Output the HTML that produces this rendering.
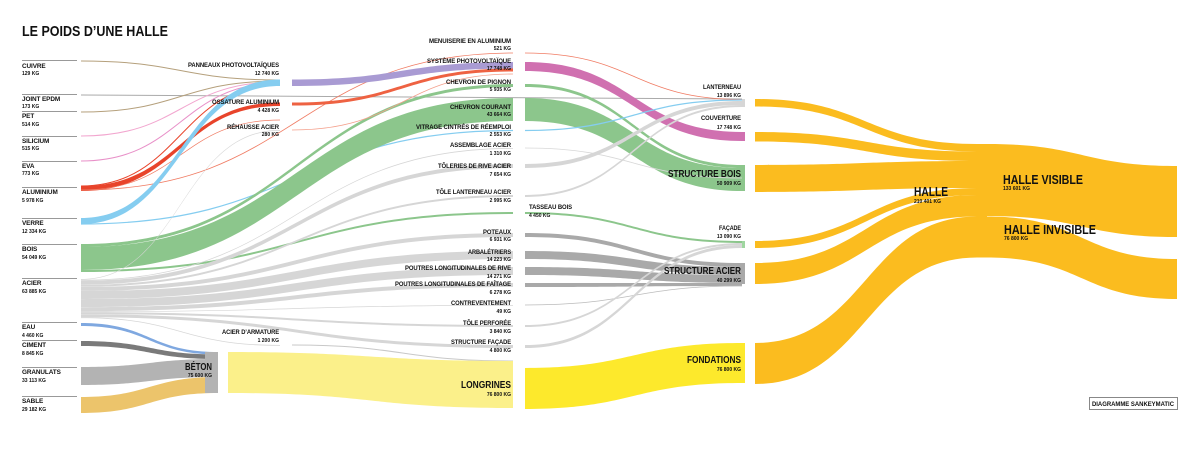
<!DOCTYPE html>
<html><head><meta charset="utf-8">
<style>
html,body{margin:0;padding:0;background:#fff;}
svg{display:block}
text{font-family:"Liberation Sans",sans-serif;font-weight:bold;fill:#111}
.n{font-size:6.4px;letter-spacing:-0.1px}
.k{font-size:5px;font-weight:bold}
.r{text-anchor:end}
</style></head>
<body>
<svg id="s" width="1200" height="453" viewBox="0 0 1200 453" xmlns="http://www.w3.org/2000/svg">
<g id="flows"></g>
<g id="labels">
<text x="22" y="36" style="font-size:15px" textLength="146" lengthAdjust="spacingAndGlyphs">LE POIDS D’UNE HALLE</text>
<g stroke="#999" stroke-width="1">
<line x1="22" y1="60.5" x2="77" y2="60.5"/><line x1="22" y1="94.5" x2="77" y2="94.5"/>
<line x1="22" y1="111.5" x2="77" y2="111.5"/><line x1="22" y1="136.5" x2="77" y2="136.5"/>
<line x1="22" y1="161.5" x2="77" y2="161.5"/><line x1="22" y1="187.5" x2="77" y2="187.5"/>
<line x1="22" y1="218.5" x2="77" y2="218.5"/><line x1="22" y1="244.5" x2="77" y2="244.5"/>
<line x1="22" y1="278.5" x2="77" y2="278.5"/><line x1="22" y1="322.5" x2="77" y2="322.5"/>
<line x1="22" y1="340.5" x2="77" y2="340.5"/><line x1="22" y1="367.5" x2="77" y2="367.5"/>
<line x1="22" y1="396.5" x2="77" y2="396.5"/>
</g>
<text class="n" x="22" y="68">CUIVRE</text><text class="k" x="22" y="75">129 KG</text>
<text class="n" x="22" y="101">JOINT EPDM</text><text class="k" x="22" y="108">173 KG</text>
<text class="n" x="22" y="118">PET</text><text class="k" x="22" y="126">514 KG</text>
<text class="n" x="22" y="143">SILICIUM</text><text class="k" x="22" y="150">515 KG</text>
<text class="n" x="22" y="168">EVA</text><text class="k" x="22" y="175">773 KG</text>
<text class="n" x="22" y="194">ALUMINIUM</text><text class="k" x="22" y="202">5 978 KG</text>
<text class="n" x="22" y="225">VERRE</text><text class="k" x="22" y="233">12 334 KG</text>
<text class="n" x="22" y="251">BOIS</text><text class="k" x="22" y="259">54 049 KG</text>
<text class="n" x="22" y="285">ACIER</text><text class="k" x="22" y="293">63 885 KG</text>
<text class="n" x="22" y="329">EAU</text><text class="k" x="22" y="337">4 460 KG</text>
<text class="n" x="22" y="347">CIMENT</text><text class="k" x="22" y="355">8 845 KG</text>
<text class="n" x="22" y="374">GRANULATS</text><text class="k" x="22" y="382">33 113 KG</text>
<text class="n" x="22" y="403">SABLE</text><text class="k" x="22" y="411">29 182 KG</text>

<text class="n r" x="279" y="67" textLength="91" lengthAdjust="spacingAndGlyphs">PANNEAUX PHOTOVOLTAÏQUES</text><text class="k r" x="279" y="75">12 740 KG</text>
<text class="n r" x="279" y="104" textLength="67" lengthAdjust="spacingAndGlyphs">OSSATURE ALUMINIUM</text><text class="k r" x="279" y="112">4 428 KG</text>
<text class="n r" x="279" y="129" textLength="52" lengthAdjust="spacingAndGlyphs">RÉHAUSSE ACIER</text><text class="k r" x="279" y="136">280 KG</text>
<text class="n r" x="279" y="334" textLength="57" lengthAdjust="spacingAndGlyphs">ACIER D’ARMATURE</text><text class="k r" x="279" y="342">1 200 KG</text>
<text class="r" x="212" y="370" style="font-size:10.5px" textLength="27" lengthAdjust="spacingAndGlyphs">BÉTON</text><text class="k r" x="212" y="377">75 600 KG</text>

<text class="n r" x="511" y="43" textLength="82" lengthAdjust="spacingAndGlyphs">MENUISERIE EN ALUMINIUM</text><text class="k r" x="511" y="50">521 KG</text>
<text class="n r" x="511" y="63" textLength="84" lengthAdjust="spacingAndGlyphs">SYSTÈME PHOTOVOLTAÏQUE</text><text class="k r" x="511" y="70">17 748 KG</text>
<text class="n r" x="511" y="84" textLength="65" lengthAdjust="spacingAndGlyphs">CHEVRON DE PIGNON</text><text class="k r" x="511" y="91">5 935 KG</text>
<text class="n r" x="511" y="109" textLength="61" lengthAdjust="spacingAndGlyphs">CHEVRON COURANT</text><text class="k r" x="511" y="116">43 664 KG</text>
<text class="n r" x="511" y="129" textLength="95" lengthAdjust="spacingAndGlyphs">VITRAGE CINTRÉS DE RÉEMPLOI</text><text class="k r" x="511" y="136">2 553 KG</text>
<text class="n r" x="511" y="147" textLength="61" lengthAdjust="spacingAndGlyphs">ASSEMBLAGE ACIER</text><text class="k r" x="511" y="155">1 310 KG</text>
<text class="n r" x="511" y="168" textLength="73" lengthAdjust="spacingAndGlyphs">TÔLERIES DE RIVE ACIER</text><text class="k r" x="511" y="176">7 654 KG</text>
<text class="n r" x="511" y="194" textLength="75" lengthAdjust="spacingAndGlyphs">TÔLE LANTERNEAU ACIER</text><text class="k r" x="511" y="202">2 995 KG</text>
<text class="n" x="529" y="209" textLength="43" lengthAdjust="spacingAndGlyphs">TASSEAU BOIS</text><text class="k" x="529" y="217">4 450 KG</text>
<text class="n r" x="511" y="234" textLength="28" lengthAdjust="spacingAndGlyphs">POTEAUX</text><text class="k r" x="511" y="241">6 931 KG</text>
<text class="n r" x="511" y="254" textLength="43" lengthAdjust="spacingAndGlyphs">ARBALÉTRIERS</text><text class="k r" x="511" y="261">14 223 KG</text>
<text class="n r" x="511" y="270" textLength="106" lengthAdjust="spacingAndGlyphs">POUTRES LONGITUDINALES DE RIVE</text><text class="k r" x="511" y="278">14 271 KG</text>
<text class="n r" x="511" y="286" textLength="116" lengthAdjust="spacingAndGlyphs">POUTRES LONGITUDINALES DE FAÎTAGE</text><text class="k r" x="511" y="294">6 278 KG</text>
<text class="n r" x="511" y="305" textLength="60" lengthAdjust="spacingAndGlyphs">CONTREVENTEMENT</text><text class="k r" x="511" y="313">49 KG</text>
<text class="n r" x="511" y="325" textLength="48" lengthAdjust="spacingAndGlyphs">TÔLE PERFORÉE</text><text class="k r" x="511" y="333">3 840 KG</text>
<text class="n r" x="511" y="344" textLength="60" lengthAdjust="spacingAndGlyphs">STRUCTURE FAÇADE</text><text class="k r" x="511" y="352">4 800 KG</text>
<text class="r" x="511" y="388" style="font-size:10.5px" textLength="50" lengthAdjust="spacingAndGlyphs">LONGRINES</text><text class="k r" x="511" y="396">76 800 KG</text>

<text class="n r" x="741" y="89" textLength="38" lengthAdjust="spacingAndGlyphs">LANTERNEAU</text><text class="k r" x="741" y="97">13 896 KG</text>
<text class="n r" x="741" y="120" textLength="40" lengthAdjust="spacingAndGlyphs">COUVERTURE</text><text class="k r" x="741" y="129">17 748 KG</text>
<text class="r" x="741" y="177" style="font-size:10.5px" textLength="73" lengthAdjust="spacingAndGlyphs">STRUCTURE BOIS</text><text class="k r" x="741" y="185">50 909 KG</text>
<text class="n r" x="741" y="230" textLength="22" lengthAdjust="spacingAndGlyphs">FAÇADE</text><text class="k r" x="741" y="238">13 090 KG</text>
<text class="r" x="741" y="274" style="font-size:10.5px" textLength="77" lengthAdjust="spacingAndGlyphs">STRUCTURE ACIER</text><text class="k r" x="741" y="282">40 299 KG</text>
<text class="r" x="741" y="363" style="font-size:10.5px" textLength="54" lengthAdjust="spacingAndGlyphs">FONDATIONS</text><text class="k r" x="741" y="371">76 800 KG</text>

<text x="914" y="196" style="font-size:12.5px" textLength="34" lengthAdjust="spacingAndGlyphs">HALLE</text><text class="k" x="914" y="203">210 401 KG</text>
<text x="1003" y="184" style="font-size:12.5px" textLength="80" lengthAdjust="spacingAndGlyphs">HALLE VISIBLE</text><text class="k" x="1003" y="190">133 601 KG</text>
<text x="1004" y="234" style="font-size:12.5px" textLength="92" lengthAdjust="spacingAndGlyphs">HALLE INVISIBLE</text><text class="k" x="1004" y="240">76 800 KG</text>
<rect x="1089.5" y="397.5" width="88" height="12" fill="#fff" stroke="#888"/>
<text x="1133" y="406" style="font-size:6px;text-anchor:middle" textLength="82" lengthAdjust="spacingAndGlyphs">DIAGRAMME SANKEYMATIC</text>
</g>
</svg>
<script>
var g=document.getElementById('flows'),NS='http://www.w3.org/2000/svg';
function band(x0,a,b,x1,c,d,col,op){var m=(x0+x1)/2,p=document.createElementNS(NS,'path');
p.setAttribute('d','M'+x0+' '+a+'C'+m+' '+a+' '+m+' '+c+' '+x1+' '+c+'L'+x1+' '+d+'C'+m+' '+d+' '+m+' '+b+' '+x0+' '+b+'Z');
p.setAttribute('fill',col);if(op)p.setAttribute('fill-opacity',op);g.appendChild(p);}
function ln(x0,a,x1,c,col,w){var m=(x0+x1)/2,p=document.createElementNS(NS,'path');
p.setAttribute('d','M'+x0+' '+a+'C'+m+' '+a+' '+m+' '+c+' '+x1+' '+c);
p.setAttribute('fill','none');p.setAttribute('stroke',col);p.setAttribute('stroke-width',w||1);g.appendChild(p);}
function rect(x,y,w,h,c){var r=document.createElementNS(NS,'rect');r.setAttribute('x',x);r.setAttribute('y',y);r.setAttribute('width',w);r.setAttribute('height',h);r.setAttribute('fill',c);g.appendChild(r);}
var G='#d6d6d6',G2='#a9a9a9',GR='#8cc68c',Y='#fbbc1f';
ln(81,95,742,99,'#aaa',1);
ln(81,61,280,80,'#b5a07c',1);
ln(81,112,280,81,'#b5a07c',1);
ln(81,136,280,82,'#f2a6cf',1);
ln(81,161,280,83,'#e890c8',1);
ln(81,186,280,84,'#e8442b',1);
band(81,186,191,280,102.5,106,'#e8442b');
ln(81,190,513,53,'#f07c64',0.8);
ln(81,190,280,120,'#f07c64',0.7);
band(81,218,224,280,79.5,86,'#85cdf0');
ln(81,224,513,130.5,'#85cdf0',1.2);
band(81,244,247,513,84,87,GR);
band(81,247,270,513,98,121,GR);
band(81,270,272,513,212,214,GR);
var ac=[[130,0.5,280],[148,0.8,513],[164,4,513],[195,2,513],[233,4,513],[251,8,513],[267,8,513],[283,4,513],[305,0.6,513],[325,2,513],[345,3,513],[345,0.8,280]];
var y=279;ac.forEach(function(a){var h=Math.max(a[1],0.7);band(81,y,y+h,a[2],a[0],a[0]+h,G);y+=h+0.1;});
band(81,323,326,218,352,354.5,'#7fa8e0');
band(81,341,346,218,354.5,359,'#7a7a7a');
band(81,367,385,218,359,377,'#b3b3b3');
band(81,397,413,218,377,393,'#ecc46b');
rect(205,352,13,41,'#b3b3b3');
band(292,79.5,86,513,62,68.5,'#a99bd3');
band(292,102.5,105.5,513,68.5,71.5,'#ee6242');
ln(292,130,513,74,'#f4a08c',0.8);
ln(292,345,513,361,'#c8c8c8',1);
band(228,352,393,513,361,408,'#fbf08a');
ln(525,53,742,99.5,'#f07c64',0.8);
band(525,62,71,742,132,141,'#d070b0');
band(525,84,87,742,165,168,GR);
band(525,98,121,742,168,191,GR);
ln(525,130.5,742,100,'#85cdf0',1.2);
ln(525,148,742,178,'#d8d8d8',0.8);
band(525,164,168,742,101,105,G);
band(525,195,197,742,105,107,G);
band(525,212,214,742,241,243,GR);
band(525,233,237,742,263,267,G2);
band(525,251,259,742,267,275,G2);
band(525,267,275,742,275,283,G2);
band(525,283,287,742,283,286,G2);
ln(525,305,742,286,'#bbb',0.7);
band(525,325,327,742,243,245,G);
band(525,345,348,742,245,248,G);
band(525,368,409,742,343,383,'#fde92c');
rect(742,99,3,8,'#d6d6d6');rect(742,132,3,9,'#d070b0');rect(742,165,3,26,GR);
rect(742,241,3,7,'#9fd6a0');rect(742,263,3,21,G2);rect(742,343,3,40,'#fde92c');
band(755,99,106.5,977,144,151.5,Y);
band(755,132,141.5,977,151.5,161,Y);
band(755,165,192,977,161,188,Y);
band(755,241,248,977,188,195,Y);
band(755,263,284,977,195,216.5,Y);
band(755,343,384,977,216.5,257.5,Y);
rect(977,144,10,113.5,Y);
band(987,144,216,1177,166,237,Y);
band(987,216.5,257.5,1177,259,299,Y);
</script>
</body></html>
